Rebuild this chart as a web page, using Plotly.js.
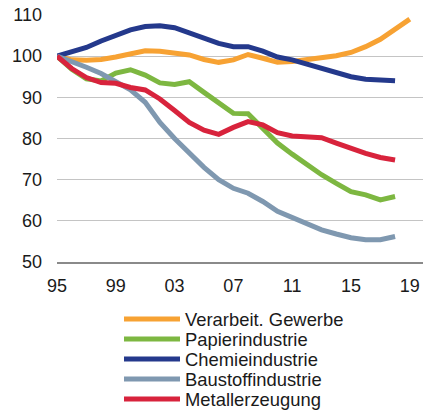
<!DOCTYPE html>
<html>
<head>
<meta charset="utf-8">
<script src="https://cdn.plot.ly/plotly-3.0.1.min.js"></script>
<style>
  html, body { margin: 0; padding: 0; background: #fff; }
  #chart { width: 423px; height: 412px; }
</style>
</head>
<body>
<div id="chart"></div>
<script>
// ---- data ----
const years = [1995,1996,1997,1998,1999,2000,2001,2002,2003,2004,2005,2006,2007,2008,2009,2010,2011,2012,2013,2014,2015,2016,2017,2018,2019];
const seriesNames = ["Verarbeit. Gewerbe","Papierindustrie","Chemieindustrie","Baustoffindustrie","Metallerzeugung"];
const verarbeitGewerbe = [100,99.1,99.0,99.2,99.8,100.5,101.3,101.2,100.9,100.3,99.2,98.5,99.1,100.4,99.5,98.5,98.7,99.2,99.5,100.1,100.9,102.3,104.1,106.6,109.0];
const papierindustrie = [100,96.8,94.5,94.0,95.9,96.7,95.4,93.5,93.1,93.8,91.2,88.5,86.1,86.0,82.6,78.9,76.2,73.6,71.2,69.1,67.1,66.3,65.1,65.9];
const chemieindustrie = [100,101.1,102.1,103.7,105.1,106.4,107.2,107.4,106.9,105.6,104.5,103.1,102.3,102.3,101.2,99.8,99.1,98.1,97.1,96.2,95.0,94.4,94.1,94.0];
const baustoffindustrie = [100,98.8,97.3,95.8,93.9,91.8,88.8,83.9,80.0,76.3,73.0,70.0,67.9,66.7,64.7,62.3,60.7,59.3,57.8,56.8,55.9,55.4,55.4,56.2];
const metallerzeugung = [100,97.0,94.8,93.6,93.4,92.4,91.8,89.6,86.8,83.9,82.0,81.0,82.7,84.1,83.3,81.4,80.6,80.4,80.2,78.9,77.6,76.4,75.4,74.8];
const xTickVals = [1995,1999,2003,2007,2011,2015,2019];
const xTickText = ["95","99","03","07","11","15","19"];
const yTickVals = [50,60,70,80,90,100,110];

// ---- styling ----
const colors = ["#F7A233","#7DB741","#24398C","#7F98B0","#D8233C"];
const values = [verarbeitGewerbe, papierindustrie, chemieindustrie, baustoffindustrie, metallerzeugung];
const legendRowsPx = [319, 339, 359, 379, 399];
const plotTop = 15, plotBottom = 262, H = 412;
const plotH = plotBottom - plotTop;

const traces = values.map((v, i) => ({
  type: 'scatter',
  mode: 'lines',
  x: years.slice(0, v.length),
  y: v,
  name: seriesNames[i],
  line: { color: colors[i], width: 5 },
  legend: i === 0 ? 'legend' : 'legend' + (i + 1),
  hoverinfo: 'skip'
}));

const layout = {
  width: 423,
  height: 412,
  margin: { l: 57, r: 0, t: plotTop, b: H - plotBottom, autoexpand: false },
  paper_bgcolor: '#ffffff',
  plot_bgcolor: '#ffffff',
  font: { family: 'Liberation Sans, Arial, sans-serif', size: 18, color: '#1a1a1a' },
  showlegend: true,
  xaxis: {
    range: [1995, 2019.9],
    tickvals: xTickVals,
    ticktext: xTickText,
    showgrid: false,
    zeroline: false,
    showline: true,
    linecolor: '#8a8a8a',
    linewidth: 1.5,
    ticks: '',
    ticklabelstandoff: 7,
    tickfont: { size: 18, color: '#1a1a1a' },
    fixedrange: true
  },
  yaxis: {
    range: [50, 110],
    tickvals: yTickVals,
    showgrid: true,
    gridcolor: '#c4c4c4',
    gridwidth: 1.2,
    zeroline: false,
    showline: false,
    ticks: '',
    ticklabelstandoff: 14,
    tickfont: { size: 18, color: '#1a1a1a' },
    fixedrange: true
  }
};

legendRowsPx.forEach((py, i) => {
  const key = i === 0 ? 'legend' : 'legend' + (i + 1);
  layout[key] = {
    x: (119 - 57) / 366,
    xanchor: 'left',
    y: (plotBottom - py) / plotH,
    yanchor: 'middle',
    bgcolor: 'rgba(0,0,0,0)',
    borderwidth: 0,
    itemwidth: 56,
    font: { size: 18.4, color: '#1a1a1a' },
    itemclick: false,
    itemdoubleclick: false
  };
});

Plotly.newPlot('chart', traces, layout, { displayModeBar: false, staticPlot: true });
</script>
</body>
</html>
